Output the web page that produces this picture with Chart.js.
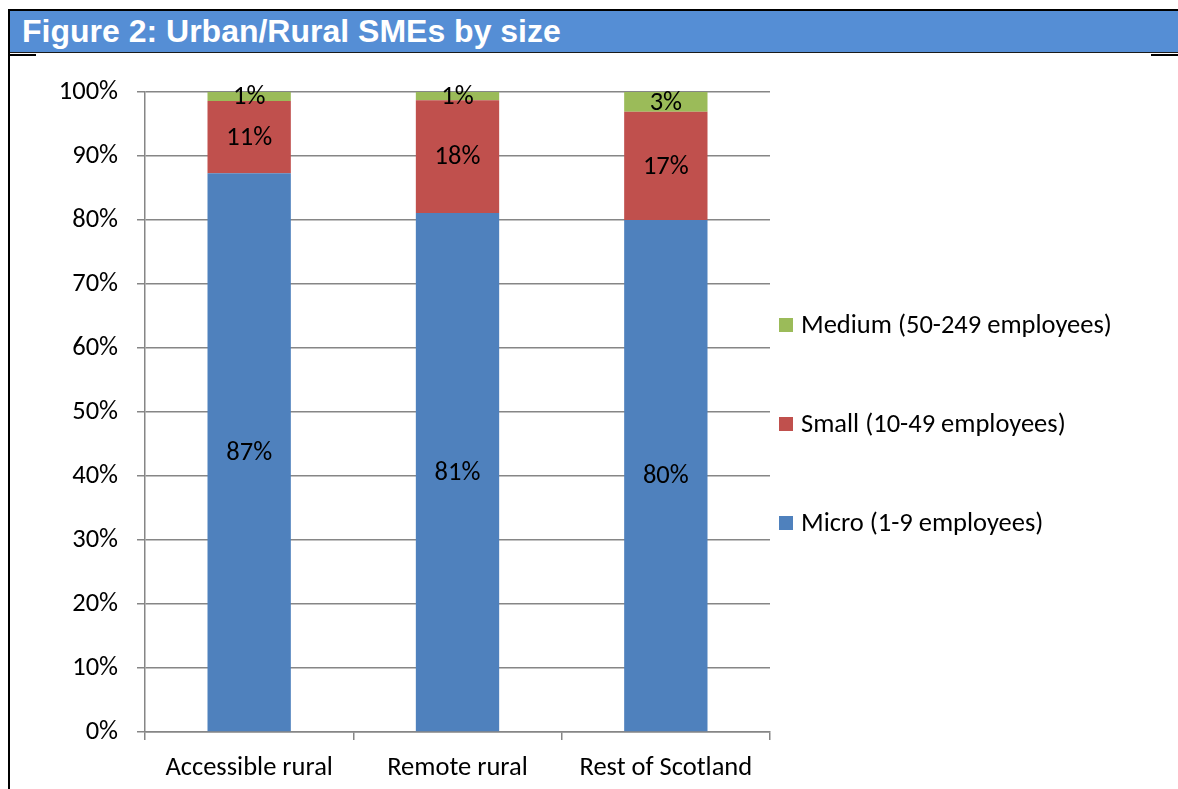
<!DOCTYPE html>
<html>
<head>
<meta charset="utf-8">
<title>Urban/Rural SMEs by size</title>
<script src="https://cdn.jsdelivr.net/npm/chart.js@4/dist/chart.umd.min.js"></script>
<style>
    html, body { margin: 0; padding: 0; background: #fff; }
    body { width: 1178px; height: 789px; position: relative; overflow: hidden; }
    #chartWrap { position: absolute; left: 0; top: 0; width: 1178px; height: 789px; }
    .rule { position: absolute; background: #000; }
    #titleBar {
        position: absolute; left: 10px; top: 11px; width: 1168px; height: 42px;
        background: #558ED5; border-bottom: 1px solid #1a1a1a;
        color: #fff; font: bold 32px "Liberation Sans", Arial, sans-serif;
        line-height: 40px; padding-left: 12px; box-sizing: border-box; white-space: nowrap;
    }
</style>
</head>
<body>
<div id="chartWrap"><canvas id="smeChart" width="1178" height="789"></canvas></div>
<div id="titleBar">Figure 2: Urban/Rural SMEs by size</div>
<div class="rule" style="left:8px; top:9px; width:1170px; height:2px;"></div>
<div class="rule" style="left:8px; top:9px; width:2px; height:780px;"></div>
<div class="rule" style="left:10px; top:54px; width:26px; height:2px;"></div>
<div class="rule" style="left:1151px; top:54px; width:27px; height:2px;"></div>

<script>
// --- DATA ---
const categories = ['Accessible rural', 'Remote rural', 'Rest of Scotland'];
const microShare  = [87.3, 81.1, 80.0];
const smallShare  = [11.3, 17.6, 16.9];
const mediumShare = [1.4, 1.3, 3.1];
const yTicks = [0, 10, 20, 30, 40, 50, 60, 70, 80, 90, 100];

const FONT = "Carlito, Calibri, Lato, 'Open Sans', sans-serif";
const FONT_SIZE = 26.5;
const GRID = '#868686';

// --- value labels in the middle of each segment ---
const segmentLabels = {
    id: 'segmentLabels',
    afterDatasetsDraw(chart) {
        const ctx = chart.ctx;
        ctx.save();
        ctx.font = FONT_SIZE + 'px ' + FONT;
        ctx.fillStyle = '#000';
        ctx.textAlign = 'center';
        ctx.textBaseline = 'middle';
        chart.data.datasets.forEach((ds, i) => {
            chart.getDatasetMeta(i).data.forEach((bar, j) => {
                const v = ds.data[j];
                ctx.fillText(Math.round(v) + '%', bar.x, (bar.y + bar.base) / 2 + 1);
            });
        });
        ctx.restore();
    }
};

// --- legend on the right, top entry = last dataset ---
const sideLegend = {
    id: 'sideLegend',
    afterDraw(chart) {
        const ctx = chart.ctx;
        const area = chart.chartArea;
        const x = area.right + 9;
        let y = area.top + 233;
        ctx.save();
        ctx.font = FONT_SIZE + 'px ' + FONT;
        ctx.textBaseline = 'middle';
        ctx.textAlign = 'left';
        chart.data.datasets.slice().reverse().forEach(ds => {
            ctx.fillStyle = ds.backgroundColor;
            ctx.fillRect(x, y - 7, 14, 14);
            ctx.fillStyle = '#000';
            ctx.fillText(ds.label, x + 22, y + 1);
            y += 99;
        });
        ctx.restore();
    }
};

const ctx = document.getElementById('smeChart').getContext('2d');
const smeChart = new Chart(ctx, {
    type: 'bar',
    data: {
        labels: categories,
        datasets: [
            { label: 'Micro (1-9 employees)', data: microShare, backgroundColor: '#4F81BD' },
            { label: 'Small (10-49 employees)', data: smallShare, backgroundColor: '#C0504D' },
            { label: 'Medium (50-249 employees)', data: mediumShare, backgroundColor: '#9BBB59' }
        ]
    },
    options: {
        responsive: false,
        animation: false,
        devicePixelRatio: 1,
        layout: { padding: { top: 92, right: 408, bottom: 0, left: 0 } },
        datasets: { bar: { barPercentage: 0.4, categoryPercentage: 1, borderWidth: 0 } },
        plugins: { legend: { display: false }, tooltip: { enabled: false } },
        scales: {
            x: {
                stacked: true,
                afterFit: s => { s.height = 57; },
                grid: { display: true, drawOnChartArea: false, drawTicks: true, tickLength: 8, color: GRID, lineWidth: 1.5, offset: true },
                border: { color: GRID, width: 1.5 },
                ticks: { color: '#000', font: { family: FONT, size: FONT_SIZE }, padding: 12, maxRotation: 0 }
            },
            y: {
                stacked: true,
                min: 0, max: 100,
                afterFit: s => { s.width = 145; },
                afterBuildTicks: s => { s.ticks = yTicks.map(v => ({ value: v })); },
                grid: { color: GRID, lineWidth: 1.5, tickLength: 8 },
                border: { color: GRID, width: 1.5 },
                ticks: { color: '#000', font: { family: FONT, size: FONT_SIZE }, padding: 19, callback: v => v + '%' }
            }
        }
    },
    plugins: [segmentLabels, sideLegend]
});
</script>
</body>
</html>
